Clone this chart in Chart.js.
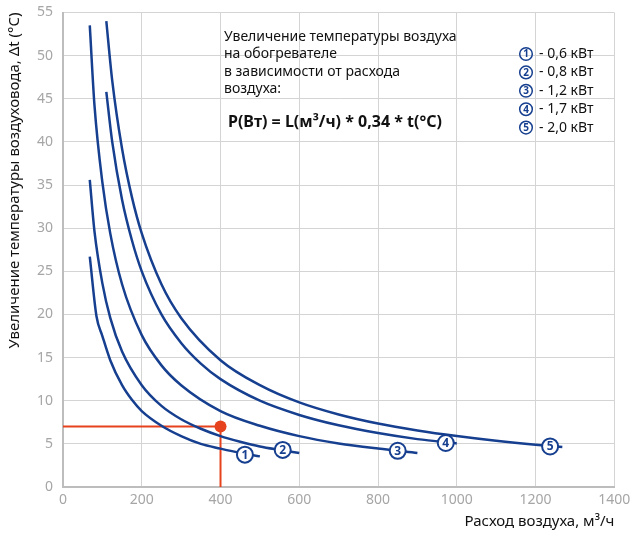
<!DOCTYPE html>
<html>
<head>
<meta charset="utf-8">
<script src="https://cdn.jsdelivr.net/npm/chart.js@4.4.0/dist/chart.umd.min.js"></script>
<style>
	html, body { margin: 0; padding: 0; background: #fff; }
</style>
</head>
<body>
<canvas id="heaterChart" width="631" height="533"></canvas>
<script>
//CURVE DATA (air flow m3/h -> temperature rise)
const flow1 = [68, 85, 100, 120, 150, 175, 200, 250, 300, 350, 400, 450, 500];
const dt1 = [26.7, 19.8, 17.5, 14.7, 11.8, 10.1, 8.8, 7.1, 5.9, 5.0, 4.45, 3.95, 3.55];
const flow2 = [68, 80, 100, 120, 150, 200, 250, 300, 350, 400, 450, 500, 550, 600];
const dt2 = [35.6, 29.6, 23.6, 19.6, 15.7, 11.8, 9.4, 7.85, 6.75, 5.9, 5.25, 4.7, 4.3, 3.93];
const flow3 = [68, 80, 100, 120, 150, 200, 250, 300, 400, 500, 600, 700, 800, 900];
const dt3 = [53.5, 44.2, 35.3, 29.4, 23.5, 17.6, 14.1, 11.8, 8.8, 7.1, 5.9, 5.05, 4.45, 3.95];
const flow4 = [110, 125, 150, 175, 200, 250, 300, 350, 400, 500, 600, 700, 800, 900, 1000];
const dt4 = [45.8, 40.0, 33.3, 28.6, 25.0, 20.0, 16.7, 14.3, 12.5, 10.0, 8.35, 7.15, 6.25, 5.55, 5.05];
const flow5 = [110, 125, 150, 175, 200, 250, 300, 400, 500, 600, 700, 800, 900, 1000, 1100, 1200, 1268];
const dt5 = [54.0, 47.1, 39.2, 33.6, 29.4, 23.5, 19.6, 14.7, 11.8, 9.8, 8.4, 7.35, 6.55, 5.9, 5.35, 4.9, 4.65];

//EXAMPLE READING (red lines)
const refFlow = [0, 400, 400];
const refDt = [7, 7, 0];

//CURVE NUMBER MARKERS
const markerFlow = [462, 558, 850, 972, 1237];
const markerDt = [3.75, 4.3, 4.2, 5.1, 4.7];

//LEGEND + NOTE TEXT
const powerLabels = ["- 0,6 кВт", "- 0,8 кВт", "- 1,2 кВт", "- 1,7 кВт", "- 2,0 кВт"];
const noteLines = ["Увеличение температуры воздуха", "на обогревателе", "в зависимости от расхода", "воздуха:"];
const formulaText = "P(Вт) = L(м³/ч) * 0,34 * t(°C)";

const BLUE = "#163f8f";
const RED = "#e5421d";
const FONT = "'Noto Sans', sans-serif";

const toPoints = (xs, ys) => xs.map((x, i) => ({ x: x, y: ys[i] }));

const curve = (xs, ys) => ({
	data: toPoints(xs, ys),
	borderColor: BLUE,
	borderWidth: 2.5,
	pointRadius: 0,
	tension: 0.4,
	cubicInterpolationMode: "monotone",
	fill: false,
});

//DRAW NUMBERED CIRCLES, NOTE AND LEGEND
const extrasPlugin = {
	id: "extras",
	afterDatasetsDraw(chart) {
		const ctx = chart.ctx;
		const xs = chart.scales.x;
		const ys = chart.scales.y;
		ctx.save();
		ctx.textAlign = "center";
		ctx.textBaseline = "middle";
		markerFlow.forEach((f, i) => {
			const px = xs.getPixelForValue(f);
			const py = ys.getPixelForValue(markerDt[i]);
			ctx.beginPath();
			ctx.arc(px, py, 8, 0, Math.PI * 2);
			ctx.fillStyle = "#fff";
			ctx.fill();
			ctx.lineWidth = 2;
			ctx.strokeStyle = BLUE;
			ctx.stroke();
			ctx.fillStyle = BLUE;
			ctx.font = "bold 12px " + FONT;
			ctx.fillText(String(i + 1), px, py + 0.5);
		});

		//NOTE
		ctx.textAlign = "left";
		ctx.fillStyle = "#111";
		ctx.font = "14px " + FONT;
		noteLines.forEach((line, i) => {
			ctx.fillText(line, 224, 37 + i * 17.5);
		});
		ctx.font = "bold 16px " + FONT;
		ctx.fillText(formulaText, 228, 122);

		//LEGEND
		powerLabels.forEach((lab, i) => {
			const cy = 54 + i * 18.4;
			ctx.beginPath();
			ctx.arc(526, cy, 6.3, 0, Math.PI * 2);
			ctx.lineWidth = 1.5;
			ctx.strokeStyle = BLUE;
			ctx.stroke();
			ctx.fillStyle = BLUE;
			ctx.font = "bold 10px " + FONT;
			ctx.textAlign = "center";
			ctx.fillText(String(i + 1), 526, cy + 0.5);
			ctx.fillStyle = "#111";
			ctx.font = "14px " + FONT;
			ctx.textAlign = "left";
			ctx.fillText(lab, 539, cy);
		});
		ctx.restore();
	},
};

new Chart(document.getElementById("heaterChart"), {
	type: "line",
	data: {
		datasets: [
			curve(flow1, dt1),
			curve(flow2, dt2),
			curve(flow3, dt3),
			curve(flow4, dt4),
			curve(flow5, dt5),
			{
				data: toPoints(refFlow, refDt),
				borderColor: RED,
				backgroundColor: RED,
				borderWidth: 2,
				tension: 0,
				pointRadius: [0, 6, 0],
				pointBorderWidth: 0,
				fill: false,
			},
		],
	},
	options: {
		responsive: false,
		devicePixelRatio: 1,
		animation: false,
		layout: { padding: { top: 12.5, right: 16.7, left: 0, bottom: 0 } },
		plugins: { legend: { display: false }, tooltip: { enabled: false } },
		scales: {
			x: {
				type: "linear",
				min: 0,
				max: 1400,
				ticks: {
					stepSize: 200,
					color: "#a6a6a6",
					font: { family: FONT, size: 14 },
					padding: 5,
					callback: (v) => String(v),
				},
				grid: { color: "#d4d4d4", lineWidth: 1, drawTicks: false },
				border: { color: "#bdbdbd", width: 2 },
				title: {
					display: true,
					text: "Расход воздуха, м³/ч",
					align: "end",
					color: "#111",
					font: { family: FONT, size: 15 },
					padding: { top: 0, bottom: 2 },
				},
				afterFit: (scale) => {
					scale.height = 46;
					scale.paddingLeft = 0;
					scale.paddingRight = 0;
				},
			},
			y: {
				min: 0,
				max: 55,
				ticks: {
					stepSize: 5,
					color: "#a6a6a6",
					font: { family: FONT, size: 14 },
					padding: 10,
					callback: (v) => String(v),
				},
				grid: { color: "#d4d4d4", lineWidth: 1, drawTicks: false },
				border: { color: "#bdbdbd", width: 2 },
				title: {
					display: true,
					text: "Увеличение температуры воздуховода, Δt (°C)",
					align: "end",
					color: "#111",
					font: { family: FONT, size: 15 },
					padding: { top: 6, bottom: 0 },
				},
				afterFit: (scale) => {
					scale.width = 63;
					scale.paddingTop = 0;
					scale.paddingBottom = 0;
				},
			},
		},
	},
	plugins: [extrasPlugin],
});
</script>
</body>
</html>
